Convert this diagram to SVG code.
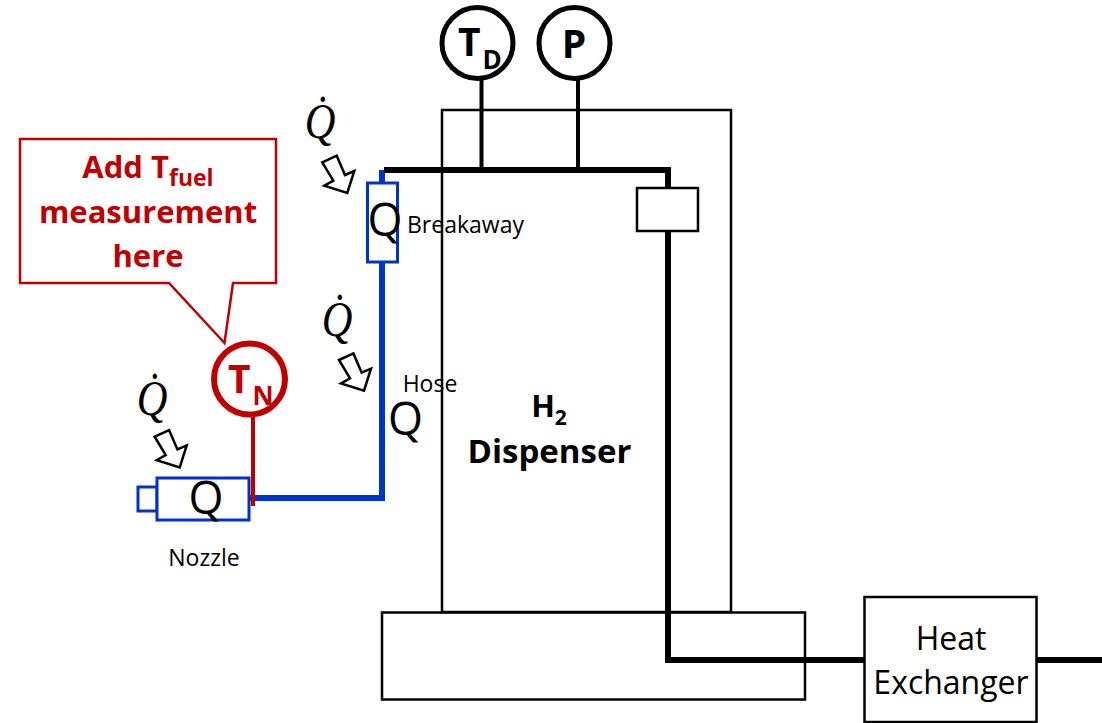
<svg xmlns="http://www.w3.org/2000/svg" width="1102" height="723" viewBox="0 0 1102 723">
<style>
text{font-family:"Open Sans","Noto Sans","Liberation Sans",sans-serif;text-anchor:middle}
.box{fill:none;stroke:#000;stroke-width:2.5}
.wb{fill:#fff;stroke:#000;stroke-width:2.5}
.pipe{fill:none;stroke:#000;stroke-width:6}
.thin{fill:none;stroke:#000;stroke-width:4}
.blue{fill:none;stroke:#0033cc;stroke-width:6}
.bbox{fill:#fff;stroke:#0033cc;stroke-width:3}
.gauge{fill:#fff;stroke:#000;stroke-width:5}
.big{font-size:28px;font-weight:700}
.q{font-size:45px}
.lab{font-size:23px}
.qd{font-family:"Liberation Serif",serif;font-style:italic;font-size:50px}
.red{fill:#c00000}
.h{font-size:33px;font-weight:700}
.he{font-size:32px}
.call{font-size:31px;font-weight:700;fill:#c00000}
</style>
<defs>
<polygon id="flux" points="322.3,162.3 336.7,155.7 345,175 354.3,171 347.3,193 324.3,185.7 333.3,180.7" fill="#fff" stroke="#000" stroke-width="2.5"/>
</defs>
<g id="dispenser"><rect class="box" x="442" y="110" width="289" height="502"/>
<text class="h" x="549" y="417" style="font-size:31px">H<tspan dy="8" font-size="21">2</tspan></text>
<text class="h" x="549.500" y="463">Dispenser</text></g>
<g id="base"><rect class="box" x="382" y="612.500" width="423" height="87"/></g>
<g id="connectors">
<path class="thin" d="M481.500 80V170M578 80V170"/>
<path class="blue" d="M382 170V498H250"/>
<path class="pipe" d="M384 170H668V660H864M1036 660H1102"/>
<path d="M253 417V506" fill="none" stroke="#c00000" stroke-width="4"/>
</g>
<g id="valve"><rect class="wb" x="637" y="188" width="61" height="43"/></g>
<g id="heat-exchanger"><rect class="wb" x="864.500" y="597" width="172" height="125"/>
<text class="he" x="951" y="650">Heat</text><text class="he" x="951" y="694">Exchanger</text></g>
<g id="gauge-td"><circle class="gauge" cx="477.500" cy="43" r="35.500"/><text class="big" x="458" y="56" style="text-anchor:start;font-size:39px">T<tspan dx="2" dy="13" font-size="26">D</tspan></text></g>
<g id="gauge-p"><circle class="gauge" cx="574.500" cy="43" r="35.500"/><text class="big" x="574" y="58" style="font-size:39px">P</text></g>
<g id="breakaway"><rect class="bbox" x="367.500" y="183" width="30" height="79"/>
<text class="q" x="385" y="236">Q</text><text class="lab" x="465.500" y="233">Breakaway</text></g>
<g id="hose"><text class="lab" x="430" y="392">Hose</text><text class="q" x="405.500" y="435">Q</text></g>
<g id="nozzle"><rect class="bbox" x="138" y="487" width="19" height="24"/><rect class="bbox" x="157" y="478" width="92" height="42"/>
<text class="q" x="206" y="514">Q</text><text class="lab" x="204" y="566">Nozzle</text></g>
<g id="gauge-tn"><circle cx="249.500" cy="379" r="35.500" fill="#fff" stroke="#c00000" stroke-width="6"/><text class="big red" x="228" y="393" style="text-anchor:start;font-size:39px">T<tspan dx="2" dy="12" font-size="26">N</tspan></text></g>
<g id="callout"><path d="M20 139H276V283H233L224.500 343L169 283H20Z" fill="#fff" stroke="#c00000" stroke-width="2.500"/>
<text class="call" x="148" y="178">Add T<tspan dy="8" font-size="23">fuel</tspan></text>
<text class="call" x="148" y="223">measurement</text>
<text class="call" x="148" y="267">here</text></g>
<g id="heat-flux">
<use href="#flux"/><use href="#flux" x="16.700" y="197.700"/><use href="#flux" x="-167.600" y="274.400"/>
<text class="qd" transform="translate(320 138) scale(.85 1)">Q̇</text><text class="qd" transform="translate(337 336) scale(.85 1)">Q̇</text><text class="qd" transform="translate(152 415) scale(.85 1)">Q̇</text>
</g>
</svg>
